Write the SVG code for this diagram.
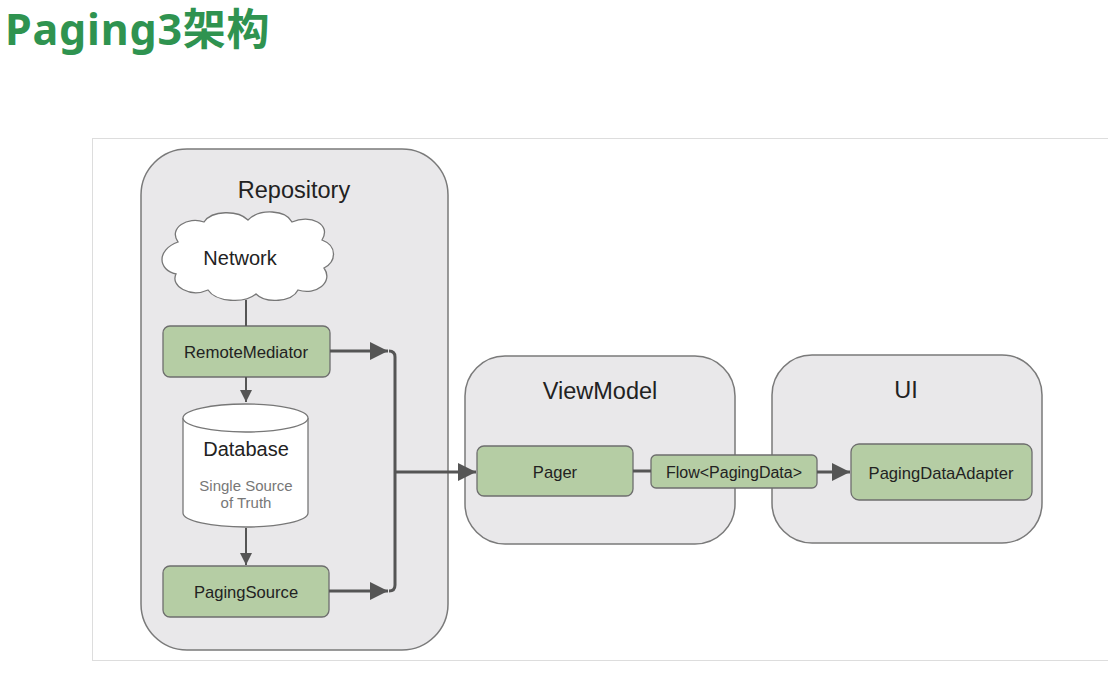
<svg xmlns="http://www.w3.org/2000/svg" width="1108" height="687" viewBox="0 0 1108 687">
<style>
.container{fill:#e9e8ea;stroke:#7a7a7a;stroke-width:1.5}
.box{fill:#b5cda4;stroke:#6e6e6e;stroke-width:1.3}
.lbl{font-family:"Liberation Sans",Arial,sans-serif;fill:#222;text-anchor:middle}
.title{font-family:"Liberation Sans",Arial,sans-serif;fill:#222;text-anchor:middle;font-size:23.5px}
.conn{stroke:#555;stroke-width:3;fill:none}
</style>
<defs>
<marker id="ah" viewBox="0 0 10 10" refX="10" refY="5" markerWidth="7.5" markerHeight="6" markerUnits="strokeWidth" orient="auto">
<path d="M0,0 L10,5 L0,10 z" fill="#555"/>
</marker>
</defs>
<rect width="1108" height="687" fill="#ffffff"/>
<text x="5" y="45" font-family="'Noto Sans','Noto Sans CJK SC',sans-serif" font-weight="bold" font-size="43" letter-spacing="0.8" fill="#2f9350">Paging3架构</text>
<rect x="92.5" y="138.5" width="1030" height="522" fill="none" stroke="#dddddd" stroke-width="1"/>

<g id="repository">
<rect class="container" x="141" y="149" width="307" height="501" rx="46"/>
<text class="title" x="294" y="198">Repository</text>
</g>
<g id="viewmodel">
<rect class="container" x="465" y="356" width="270" height="188" rx="40"/>
<text class="title" x="600" y="399">ViewModel</text>
</g>
<g id="ui">
<rect class="container" x="772" y="355" width="270" height="188" rx="40"/>
<text class="title" x="906" y="398">UI</text>
</g>

<g id="network">
<path d="M178,242 C168,228 188,216 204,222 C212,210 238,210 248,220 C260,208 286,210 292,222 C310,214 332,224 322,240 C338,246 336,262 324,268 C334,282 316,296 298,290 C292,302 266,304 256,294 C244,304 216,302 208,290 C190,298 170,286 176,274 C158,270 156,250 178,242 Z" fill="#ffffff" stroke="#777" stroke-width="1.3"/>
<text class="lbl" x="240" y="265" font-size="20">Network</text>
</g>
<g id="remotemediator">
<rect class="box" x="163" y="326" width="167" height="51" rx="7"/>
<text class="lbl" x="246" y="358" font-size="16.8">RemoteMediator</text>
</g>
<g id="database">
<path d="M183,418 L183,513 A62.5,14 0 0 0 308,513 L308,418" fill="#ffffff" stroke="#777" stroke-width="1.3"/>
<ellipse cx="245.5" cy="418" rx="62.5" ry="14" fill="#ffffff" stroke="#777" stroke-width="1.3"/>
<text class="lbl" x="246" y="456" font-size="20">Database</text>
<text class="lbl" x="246" y="491" font-size="15" style="fill:#777">Single Source</text>
<text class="lbl" x="246" y="508" font-size="15" style="fill:#777">of Truth</text>
</g>
<g id="pagingsource">
<rect class="box" x="163" y="566" width="166" height="51" rx="7"/>
<text class="lbl" x="246" y="598" font-size="16.6">PagingSource</text>
</g>
<g id="pager">
<rect class="box" x="477" y="446" width="156" height="50" rx="7"/>
<text class="lbl" x="555" y="478" font-size="16.6">Pager</text>
</g>
<g id="flow">
<rect class="box" x="651" y="455" width="166" height="33" rx="5"/>
<text class="lbl" x="734" y="477.5" font-size="16">Flow&lt;PagingData&gt;</text>
</g>
<g id="pagingdataadapter">
<rect class="box" x="851" y="444" width="181" height="56" rx="8"/>
<text class="lbl" x="941" y="478.5" font-size="16.6">PagingDataAdapter</text>
</g>

<g id="connectors">
<line class="conn" x1="246" y1="300" x2="246" y2="326" style="stroke-width:2"/>
<line class="conn" x1="246" y1="377" x2="246" y2="402" style="stroke-width:2" marker-end="url(#ah)"/>
<line class="conn" x1="246" y1="528" x2="246" y2="565" style="stroke-width:2" marker-end="url(#ah)"/>
<line class="conn" x1="330" y1="351" x2="388" y2="351" marker-end="url(#ah)"/>
<line class="conn" x1="329" y1="591" x2="388" y2="591" marker-end="url(#ah)"/>
<path class="conn" d="M389,351 Q395,351 395,357 L395,585 Q395,591 389,591"/>
<line class="conn" x1="395" y1="472" x2="476" y2="472" marker-end="url(#ah)"/>
<line class="conn" x1="633" y1="471" x2="651" y2="471"/>
<line class="conn" x1="817" y1="472" x2="850" y2="472" marker-end="url(#ah)"/>
</g>
</svg>
